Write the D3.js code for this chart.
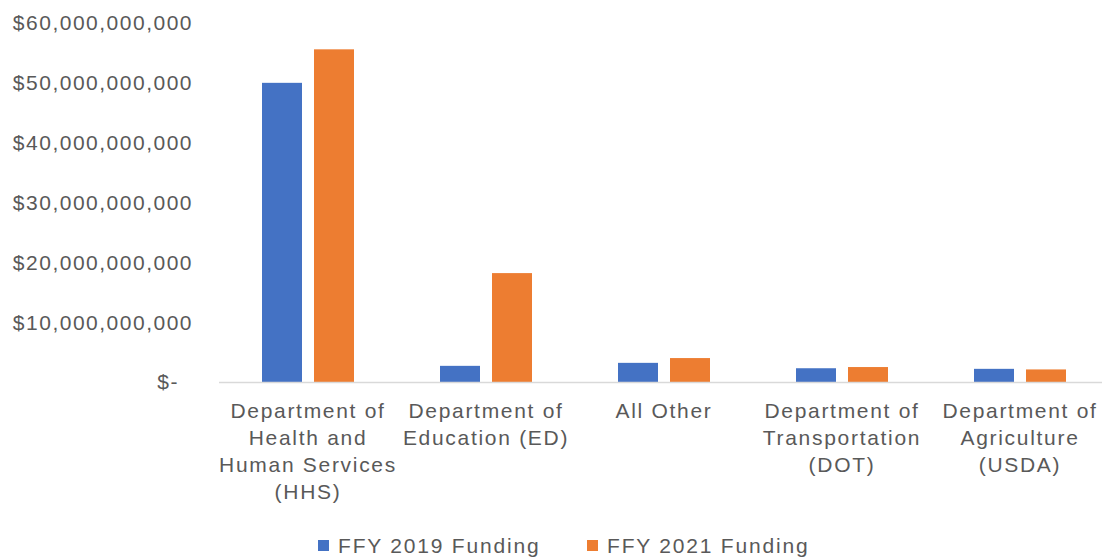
<!DOCTYPE html>
<html><head><meta charset="utf-8">
<script src="https://cdn.jsdelivr.net/npm/d3@7"></script>
<style>body{margin:0;background:#fff;} text{font-family:"Liberation Sans",Arial,sans-serif;fill:#595959;}</style>
</head><body>
<svg id="c" width="1102" height="557"></svg>
<script>
const categories = ["Department of Health and Human Services (HHS)", "Department of Education (ED)", "All Other", "Department of Transportation (DOT)", "Department of Agriculture (USDA)"];
const labelLines = [["Department of","Health and","Human Services","(HHS)"],["Department of","Education (ED)"],["All Other"],["Department of","Transportation","(DOT)"],["Department of","Agriculture","(USDA)"]];
const series = ["FFY 2019 Funding", "FFY 2021 Funding"];
const fy2019 = [50.0e9, 2.7e9, 3.2e9, 2.3e9, 2.2e9];
const fy2021 = [55.6e9, 18.2e9, 4.0e9, 2.5e9, 2.1e9];
const yTicks = [0, 10e9, 20e9, 30e9, 40e9, 50e9, 60e9];
const colors = ["#4472C4", "#ED7D31"];

const svg = d3.select("#c");
const x0 = d3.scaleBand().domain(categories).range([219, 1109]).paddingInner(0).paddingOuter(0);
const x1 = d3.scaleBand().domain(series).range([0, 92]).paddingInner(12 / 52);
const y = d3.scaleLinear().domain([0, 60e9]).range([382, 23]);

const fmt = v => v === 0 ? "$-" : "$" + d3.format(",")(v);
// y axis labels
svg.append("g").selectAll("text").data(yTicks).join("text")
  .attr("x", v => v === 0 ? 179 : 193).attr("y", v => y(v)).attr("dy", "0.35em")
  .attr("text-anchor", "end").style("font-size", "21px").style("letter-spacing", "1.5px")
  .text(fmt);

// bars
const data = categories.map((c, i) => ({c, vals: [fy2019[i], fy2021[i]]}));
const g = svg.append("g");
data.forEach(d => {
  const cx = x0(d.c) + x0.bandwidth() / 2;
  g.selectAll(null).data(d.vals).join("rect")
    .attr("x", (v, j) => cx - 46 + x1(series[j]))
    .attr("y", v => y(v))
    .attr("width", x1.bandwidth())
    .attr("height", v => y(0) - y(v))
    .attr("fill", (v, j) => colors[j]);
});

// axis line
svg.append("line").attr("x1", 219).attr("x2", 1102).attr("y1", y(0) + 0.5).attr("y2", y(0) + 0.5)
  .attr("stroke", "#D9D9D9").attr("stroke-width", 1.5);

// x labels
categories.forEach((c, i) => {
  const cx = x0(c) + x0.bandwidth() / 2;
  const t = svg.append("text").attr("text-anchor", "middle").style("font-size", "21px").style("letter-spacing", "1.7px");
  labelLines[i].forEach((l, k) => {
    t.append("tspan").attr("x", cx).attr("y", 418 + k * 27).text(l);
  });
});

// legend
const leg = svg.append("g");
const legX = [318, 587];
series.forEach((s, i) => {
  leg.append("rect").attr("x", legX[i]).attr("y", 540).attr("width", 11).attr("height", 11).attr("fill", colors[i]);
  leg.append("text").attr("x", legX[i] + 20).attr("y", 553).style("font-size", "21px").style("letter-spacing", "1.8px").text(s);
});
</script>
</body></html>
